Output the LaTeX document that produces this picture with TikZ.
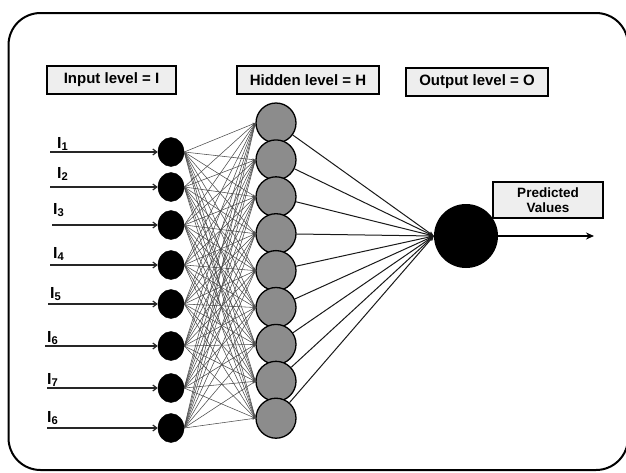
\documentclass[tikz,border=0pt]{standalone}
\usepackage{fontspec}
\setmainfont{Liberation Sans}
\usetikzlibrary{arrows.meta,shapes.geometric}
\definecolor{boxfill}{RGB}{238,238,238}
\definecolor{hidfill}{RGB}{140,140,140}
\begin{document}
\begin{tikzpicture}[x=1pt,y=-1pt,
 lvlbox/.style={draw=black,line width=1.5pt,fill=boxfill,font=\fontsize{15}{18}\selectfont\bfseries,inner sep=0pt,minimum height=28pt},
 predbox/.style={draw=black,line width=1.5pt,fill=boxfill,font=\fontsize{13.5}{15.5}\selectfont\bfseries,inner sep=0pt,align=center,minimum width=110pt,minimum height=36pt},
 innode/.style={ellipse,fill=black,draw=black,minimum width=26pt,minimum height=29pt,inner sep=0pt},
 hidnode/.style={circle,fill=hidfill,draw=black,line width=1.3pt,minimum size=40pt,inner sep=0pt},
 outnode/.style={circle,fill=black,minimum size=64pt,inner sep=0pt},
 inlabel/.style={anchor=base west,inner sep=0pt,font=\fontsize{16}{19}\selectfont\bfseries},
 inarrow/.style={draw=black!85,line width=1.2pt,-{Straight Barb[length=4pt,width=6pt]}},
 weight/.style={draw=black!70,line width=0.55pt,-{Stealth[length=3pt,width=2.5pt]}},
 hoarrow/.style={draw=black!90,line width=1pt,-{Stealth[length=5pt,width=4pt]}},
 outarrow/.style={draw=black,line width=1.4pt,-{Stealth[length=8pt,width=7pt]}},
 frame/.style={draw=black,line width=2pt,rounded corners=32pt}]
\useasboundingbox (0,0) rectangle (626,472);
\path[frame] (8.5,13) rectangle (628,470);

\node[lvlbox,minimum width=129pt] (lin) at (111.5,80) {Input level = I};
\node[lvlbox,minimum width=142pt] (lhid) at (308,80) {Hidden level = H};
\node[lvlbox,minimum width=142pt] (lout) at (477,82) {Output level = O};

\foreach \n/\y/\sx/\ly/\lx/\s in {1/152/50/143/57/1,2/187/50/173/57/2,3/225/52/209/53/3,4/265/50/253/53/4,5/304/48/293/50/5,6/346/45/337/47/6,7/388/47/379/47/7,8/428/47/417/47/6}{
  \node[innode] (i\n) at (171,\y) {};
  \coordinate (s\n) at (\sx,\y);
  \draw[inarrow] (s\n) -- (i\n);
  \node[inlabel] (l\n) at (\lx,\ly+5) {I\textsubscript{\s}};
}

\foreach \k in {1,...,9}{
  \node[hidnode] (h\k) at (276,{123+36.9*(\k-1)}) {};
}

\node[outnode] (out) at (466,236) {};
\node[predbox] (pred) at (548,200) {Predicted\\Values};
\coordinate (pv) at (594,236);
\draw[outarrow] (out) -- (pv);

\foreach \j in {1,...,8}{
  \foreach \k in {1,...,9}{
    \draw[weight] (i\j.east) -- (h\k.west);
  }
}
\foreach \k in {1,...,9}{
  \draw[hoarrow] (h\k) -- (out.west);
}
\end{tikzpicture}
\end{document}
